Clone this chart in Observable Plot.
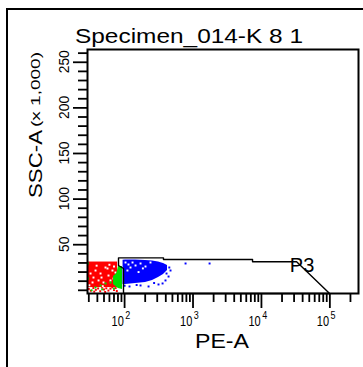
<!DOCTYPE html>
<html>
<head>
<meta charset="utf-8">
<script src="https://cdn.jsdelivr.net/npm/d3@7"></script>
<script src="https://cdn.jsdelivr.net/npm/@observablehq/plot@0.6"></script>
<style>
  html, body { margin: 0; padding: 0; background: #fff; }
  svg { display: block; }
</style>
</head>
<body>
<script>
// ---- texts ----
const titleText = "Specimen_014-K 8 1";
const xTitle = "PE-A";
const yTitleMain = "SSC-A";
const yTitleUnit = "(x 1,000)";
const gateName = "P3";

// ---- axes ----
const xDomain = [28.7, 262144];
const yDomain = [-3.5, 264];
const xMajorTicks = [100, 1000, 10000, 100000];
const xMajorExp = ["2", "3", "4", "5"];
const xMinorTicks = [30, 40, 50, 60, 70, 80, 90,
  200, 300, 400, 500, 600, 700, 800, 900,
  2000, 3000, 4000, 5000, 6000, 7000, 8000, 9000,
  20000, 30000, 40000, 50000, 60000, 70000, 80000, 90000, 200000];
const yMajorTicks = [50, 100, 150, 200, 250];
const yMinorTicks = [0, 10, 20, 30, 40, 60, 70, 80, 90, 110, 120, 130, 140, 160, 170, 180, 190, 210, 220, 230, 240, 260];

// ---- populations (PE-A, SSC-A x1000) ----
const redBlockX1 = [28.7];
const redBlockX2 = [79];
const redBlockY1 = [3];
const redBlockY2 = [31];
const redDotsX = [30, 32, 35, 38, 41, 44, 47, 50, 54, 58, 62, 66, 70, 74, 77, 36, 52];
const redDotsY = [1.5, -0.5, 2.5, 0.5, 2, -1, 3, 0.8, 2.2, -0.3, 1.8, 3.2, 0.2, 2.4, -0.8, -1.5, -1.8];
const redHolesX = [52.6, 44.5, 35.1, 34.0, 41.6, 58.2, 66.5, 68.9, 49.2, 37.6, 31.8, 56.3, 73.6, 62.2, 46, 39, 60, 70, 30.5, 48];
const redHolesY = [25.0, 18.4, 14.0, 8.6, 10.8, 16.2, 21.7, 12.9, 8.6, 21.7, 18.4, 23.9, 19.5, 10.8, 14, 27, 28, 26, 5.5, 4.5];

const greenAreaX = [68.9, 77.1, 81.5, 93.2];
const greenAreaLow = [6.4, 3.1, 2.0, 0.9];
const greenAreaHigh = [15.1, 18.4, 26.1, 26.1];
const greenDotsX = [29.2, 29.2, 44.5, 52.6, 37.6, 62.2, 47, 70, 33];
const greenDotsY = [29.4, 12.9, 5.3, 7.5, 3.1, 8.6, 1, 2, 0];

const blueAreaX = [95, 103.2, 144.5, 202, 256, 313, 370, 424];
const blueAreaLow = [6.4, 6.4, 7.5, 8.6, 10.8, 14.0, 17.3, 21.7];
const blueAreaHigh = [33.0, 33.2, 33.2, 32.7, 32.2, 31.0, 29.4, 27.2];
const blueDotsX = [778, 1746, 396, 439, 469, 313, 224, 118, 171, 359, 410, 100, 150, 270, 450];
const blueDotsY = [29.4, 29.4, 10.8, 15.1, 21.7, 6.4, 4.2, 4.2, 5.3, 7.5, 18.4, 5.0, 5.8, 8.0, 25];
const blueHolesX = [103.2, 114, 130.6, 144.5, 122, 171, 110, 202, 239, 160, 185];
const blueHolesY = [30.5, 28.3, 30.5, 27.2, 25.0, 29.4, 21.7, 26.1, 30.5, 20, 24];

// ---- gate P3 polygon ----
const gateX = [81.5, 370, 370, 7413, 7413, 32650, 99100, 96.4, 96.4, 81.5, 81.5];
const gateY = [35.6, 35.6, 33.8, 33.8, 31.3, 31.3, -3.5, -3.5, 23.9, 27.2, 35.6];
const gateLabelX = [26000];
const gateLabelY = [27];

// build tables
const redBlock = redBlockX1.map((d, i) => ({x1: d, x2: redBlockX2[i], y1: redBlockY1[i], y2: redBlockY2[i]}));
const pts = (xs, ys) => xs.map((x, i) => ({x, y: ys[i]}));
const band = (xs, lo, hi) => xs.map((x, i) => ({x, lo: lo[i], hi: hi[i]}));
const gate = pts(gateX, gateY);

const font = "'Liberation Sans', Arial, sans-serif";
const sq = {symbol: "square", r: 1.1};

const plot = Plot.plot({
  width: 363,
  height: 367,
  marginTop: 49,
  marginBottom: 74,
  marginLeft: 87,
  marginRight: 5,
  style: {background: "#fff", fontFamily: font, color: "#000"},
  x: {type: "log", domain: xDomain},
  y: {domain: yDomain},
  marks: [
    Plot.rect(redBlock, {x1: "x1", x2: "x2", y1: "y1", y2: "y2", fill: "#ff0000"}),
    Plot.dot(pts(redDotsX, redDotsY), {x: "x", y: "y", fill: "#ff0000", ...sq}),
    Plot.dot(pts(redHolesX, redHolesY), {x: "x", y: "y", fill: "#ffffff", ...sq}),
    Plot.areaY(band(greenAreaX, greenAreaLow, greenAreaHigh), {x: "x", y1: "lo", y2: "hi", fill: "#00dd00"}),
    Plot.dot(pts(greenDotsX, greenDotsY), {x: "x", y: "y", fill: "#00dd00", ...sq}),
    Plot.areaY(band(blueAreaX, blueAreaLow, blueAreaHigh), {x: "x", y1: "lo", y2: "hi", fill: "#0000ff"}),
    Plot.dot(pts(blueDotsX, blueDotsY), {x: "x", y: "y", fill: "#0000ff", ...sq}),
    Plot.dot(pts(blueHolesX, blueHolesY), {x: "x", y: "y", fill: "#ffffff", ...sq}),
    Plot.line(gate, {x: "x", y: "y", stroke: "#000", strokeWidth: 1.4}),
    Plot.text(pts(gateLabelX, gateLabelY), {x: "x", y: "y", text: () => gateName, fontSize: 20, textAnchor: "start", fill: "#000"}),
    Plot.frame({stroke: "#000", strokeWidth: 2}),
    Plot.axisX(xMinorTicks, {tickSize: 9, tickFormat: () => "", strokeWidth: 1.8, stroke: "#000"}),
    Plot.axisX(xMajorTicks, {tickSize: 15, tickFormat: () => "", strokeWidth: 1.8, stroke: "#000"}),
    Plot.axisY(yMinorTicks, {tickSize: 9, tickFormat: () => "", strokeWidth: 1.8, stroke: "#000"}),
    Plot.axisY(yMajorTicks, {tickSize: 14, tickFormat: () => "", strokeWidth: 1.8, stroke: "#000"})
  ]
});

const svg = d3.select(plot);
const xs = plot.scale("x");
const ys = plot.scale("y");

const addText = (x, y, txt, size, len, anchor, transform) => {
  const t = svg.append("text")
    .attr("font-size", size).attr("font-family", font).attr("fill", "#000")
    .attr("text-anchor", anchor)
    .attr("textLength", len).attr("lengthAdjust", "spacingAndGlyphs")
    .text(txt);
  if (transform) t.attr("transform", transform);
  else t.attr("x", x).attr("y", y);
  return t;
};

// outer border
svg.insert("rect", ":first-child").attr("x", 7).attr("y", 9).attr("width", 420).attr("height", 420)
  .attr("fill", "none").attr("stroke", "#000").attr("stroke-width", 2);

// title and x title
addText(75, 43, titleText, 21, 228, "start");
addText(195, 348, xTitle, 21, 54, "start");

// x tick labels: "10" with a raised exponent, one text element each (vertically stretched)
xMajorTicks.forEach((v, i) => {
  const px = xs.apply(v);
  const t = svg.append("text")
    .attr("transform", `translate(${px - 12.5},325.5) scale(1,1.25)`)
    .attr("font-family", font).attr("fill", "#000").attr("text-anchor", "start");
  t.append("tspan").attr("font-size", 11).text("10");
  t.append("tspan").attr("font-size", 9).attr("dx", 1.5).attr("dy", -5.5).text(xMajorExp[i]);
});

// y tick labels (rotated)
yMajorTicks.forEach(v => {
  const py = ys.apply(v);
  addText(0, 0, String(v), 15, String(v).length * 7.7, "middle", `translate(69,${py}) rotate(-90)`);
});

// y title (rotated)
addText(0, 0, yTitleMain, 19, 68, "middle", "translate(42,164) rotate(-90)");
addText(0, 0, yTitleUnit, 12, 75, "middle", "translate(39.5,89.5) rotate(-90)");

document.body.appendChild(plot);
</script>
</body>
</html>
